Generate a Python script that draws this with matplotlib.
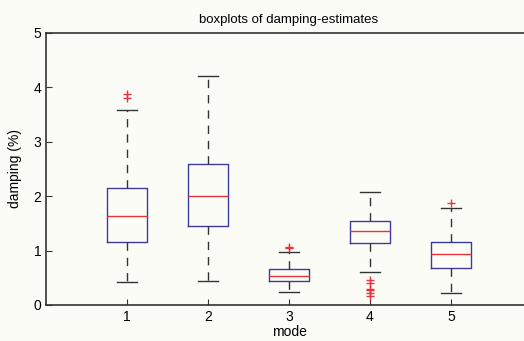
import matplotlib.pyplot as plt

# values (damping in %)
modes = [1, 2, 3, 4, 5]
whislo = [0.42, 0.44, 0.24, 0.60, 0.22]
q1 = [1.16, 1.45, 0.44, 1.14, 0.68]
med = [1.64, 2.00, 0.53, 1.36, 0.94]
q3 = [2.15, 2.59, 0.66, 1.55, 1.16]
whishi = [3.58, 4.21, 0.97, 2.08, 1.79]
fliers = [
    [3.80, 3.88],
    [],
    [1.04, 1.07],
    [0.46, 0.40, 0.29, 0.27, 0.22, 0.17],
    [1.88],
]

stats = []
for i in range(len(modes)):
    stats.append(dict(whislo=whislo[i], q1=q1[i], med=med[i], q3=q3[i],
                      whishi=whishi[i], fliers=fliers[i], label=str(modes[i])))

plt.rcParams['font.family'] = ['Liberation Sans', 'DejaVu Sans']

fig = plt.figure(figsize=(5.24, 3.41), dpi=100, facecolor='#fcfcf7')
# right edge of the axes runs off the picture, as in the original
ax = fig.add_axes([46 / 524, 36 / 341, 486 / 524, 272 / 341])
ax.set_facecolor('#fcfcf7')

ax.bxp(stats, positions=modes, widths=0.5,
       boxprops=dict(color='#3b3b9e', linewidth=1.0),
       medianprops=dict(color='#e8343c', linewidth=1.0),
       whiskerprops=dict(color='#333333', linewidth=1.0, linestyle=(0, (6, 5))),
       capprops=dict(color='#333333', linewidth=1.0),
       capwidths=0.25,
       flierprops=dict(marker='+', markeredgecolor='#e8343c', markersize=6,
                       linestyle='none'))

ax.set_xlim(0, 6)
ax.set_ylim(0, 5)
ax.set_xticks(modes)
ax.set_xticklabels([str(m) for m in modes])
ax.set_yticks([0, 1, 2, 3, 4, 5])
ax.tick_params(direction='in', length=4, labelsize=10, color='#333333')
for s in ax.spines.values():
    s.set_color('#333333')
    s.set_linewidth(1.2)

ax.set_title('boxplots of damping-estimates', fontsize=9.5, pad=7)
ax.set_xlabel('mode', fontsize=10, labelpad=1)
ax.set_ylabel('damping (%)', fontsize=10, labelpad=8)

fig.savefig('out.png', dpi=100, facecolor=fig.get_facecolor())
